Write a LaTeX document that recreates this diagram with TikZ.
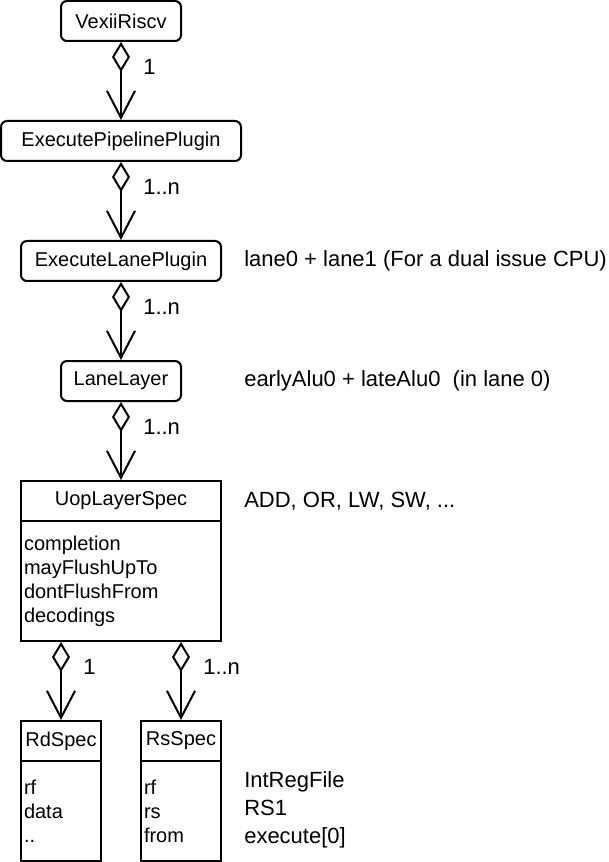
\documentclass[tikz,border=0pt]{standalone}
\usepackage{fontspec}
\setmainfont{Liberation Sans}
\usetikzlibrary{arrows.meta}

\begin{document}
\begin{tikzpicture}[x=0.75pt, y=-0.75pt,
            every node/.style={font=\fontsize{15}{18}\selectfont},
            class/.style={rectangle, draw, line width=1.5pt, rounded corners=4.5pt, minimum height=30pt, inner sep=0pt},
            spec/.style={rectangle, draw, line width=1.5pt, minimum height=30pt, inner sep=0pt},
            attrs/.style={rectangle, draw, line width=1.5pt, align=left, inner xsep=2.25pt, inner ysep=0pt},
            agg/.style={line width=1.5pt, {Diamond[fill=white, length=22.5pt, width=13.5pt]}-{Straight Barb[length=20.25pt, width=21pt]}},
            mult/.style={anchor=west, inner sep=0pt, font=\fontsize{16.5}{20}\selectfont},
            note/.style={anchor=west, inner sep=0pt, align=left, font=\fontsize{16.5}{21}\selectfont}
        ]
            \useasboundingbox (0,0) rectangle (608,862);
            \node[class, minimum width=90pt] (vexii) at (121,21) {VexiiRiscv};
            \node[class, minimum width=180pt] (pipeline) at (121,141) {ExecutePipelinePlugin};
            \node[class, minimum width=150pt] (lane) at (121,261) {ExecuteLanePlugin};
            \node[class, minimum width=90pt] (layer) at (121,381) {LaneLayer};
            \node[spec, minimum width=150pt] (uop) at (121,501) {UopLayerSpec};
            \node[attrs, text width=145.5pt, minimum height=90pt] (uopattr) at (121,581) {completion\\mayFlushUpTo\\dontFlushFrom\\decodings};
            \node[spec, minimum width=60pt] (rd) at (61,741) {RdSpec};
            \node[attrs, text width=55.5pt, minimum height=75pt] (rdattr) at (61,811) {rf\\data\\..};
            \node[spec, minimum width=60pt] (rs) at (181,741) {RsSpec};
            \node[attrs, text width=55.5pt, minimum height=75pt] (rsattr) at (181,811) {rf\\rs\\from};
            \draw[agg] (vexii) -- (pipeline);
            \draw[agg] (pipeline) -- (lane);
            \draw[agg] (lane) -- (layer);
            \draw[agg] (layer) -- (uop);
            \draw[agg] (uopattr.south -| rd.north) -- (rd.north);
            \draw[agg] (uopattr.south -| rs.north) -- (rs.north);
            \node[mult] (m1) at (143,67) {1};
            \node[mult] (m2) at (143,187) {1..n};
            \node[mult] (m3) at (143,307) {1..n};
            \node[mult] (m4) at (143,427) {1..n};
            \node[mult] (m5) at (83,667) {1};
            \node[mult] (m6) at (203,667) {1..n};
            \node[note] (lanes) at (244,261) {lane0 + lane1 (For a dual issue CPU)};
            \node[note] (alus) at (244,381) {earlyAlu0 + lateAlu0\ \ (in lane 0)};
            \node[note] (uops) at (244,501) {ADD, OR, LW, SW, ...};
            \node[note] (rsex) at (244,809.5) {IntRegFile\\RS1\\execute[0]};
        \end{tikzpicture}
\end{document}
